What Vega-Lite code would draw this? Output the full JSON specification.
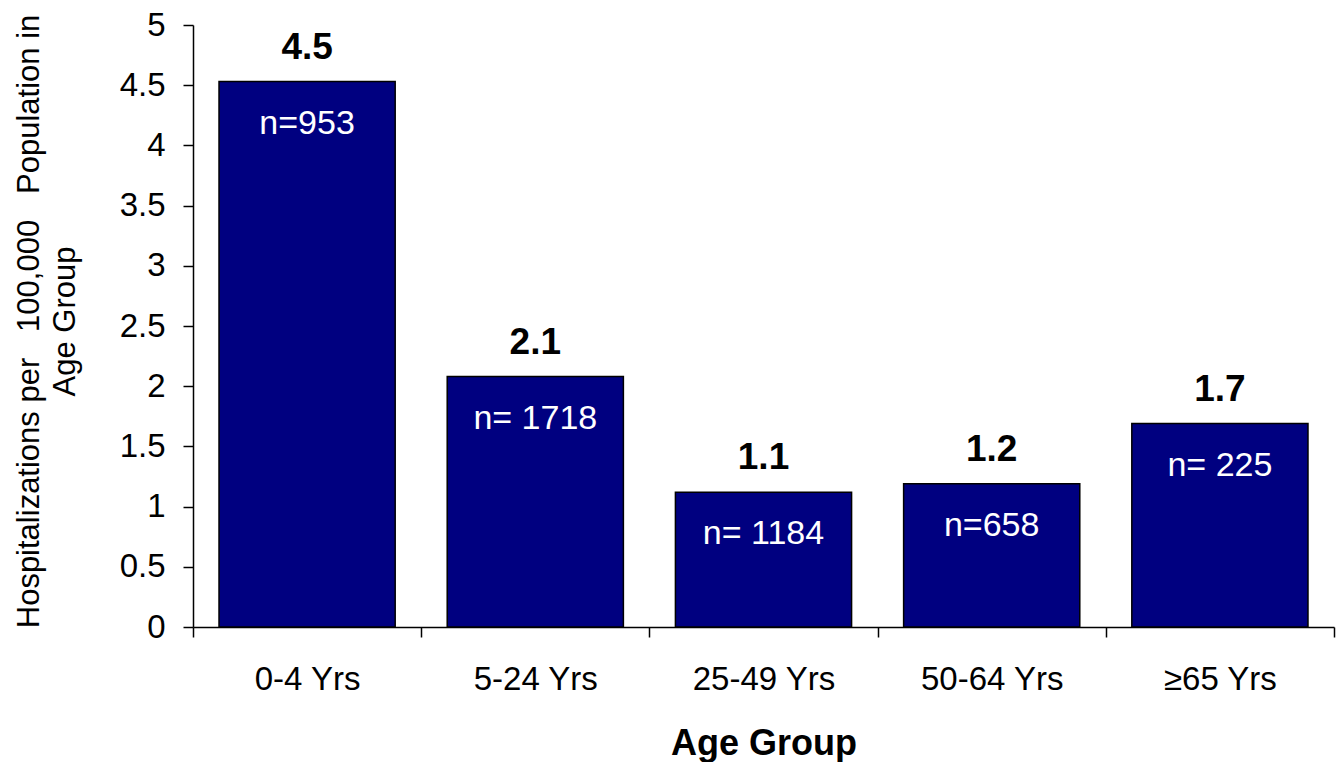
{
  "$schema": "https://vega.github.io/schema/vega-lite/v6.json",
  "width": 1141,
  "height": 602,
  "autosize": {"type": "none"},
  "padding": {"left": 193, "top": 25, "right": 3, "bottom": 135},
  "background": "white",
  "data": {
    "values": [
      {"age": "0-4 Yrs", "rate": 4.53, "label": "4.5", "n": "n=953"},
      {"age": "5-24 Yrs", "rate": 2.08, "label": "2.1", "n": "n= 1718"},
      {"age": "25-49 Yrs", "rate": 1.12, "label": "1.1", "n": "n= 1184"},
      {"age": "50-64 Yrs", "rate": 1.19, "label": "1.2", "n": "n=658"},
      {"age": "≥65 Yrs", "rate": 1.69, "label": "1.7", "n": "n= 225"}
    ]
  },
  "config": {
    "font": "Liberation Sans",
    "view": {"stroke": null},
    "axis": {
      "domainColor": "black",
      "tickColor": "black",
      "labelColor": "black",
      "titleColor": "black",
      "domainWidth": 1.5,
      "tickWidth": 1.5,
      "grid": false,
      "labelFont": "Liberation Sans",
      "titleFont": "Liberation Sans"
    }
  },
  "encoding": {
    "x": {
      "field": "age",
      "type": "nominal",
      "sort": null,
      "scale": {"paddingInner": 0, "paddingOuter": 0},
      "axis": {
        "title": "Age Group",
        "titleFontSize": 36,
        "titleFontWeight": "bold",
        "titleBaseline": "alphabetic",
        "titleY": 127,
        "labelAngle": 0,
        "labelFontSize": 33,
        "labelBaseline": "top",
        "labelPadding": 26,
        "tickSize": 10,
        "tickBand": "extent"
      }
    },
    "y": {
      "field": "rate",
      "type": "quantitative",
      "scale": {"domain": [0, 5], "nice": false},
      "axis": {
        "values": [0, 0.5, 1, 1.5, 2, 2.5, 3, 3.5, 4, 4.5, 5],
        "format": "~g",
        "labelFontSize": 33,
        "labelPadding": 18,
        "tickSize": 10,
        "title": ["Hospitalizations per\u00a0\u00a0 100,000 \u00a0\u00a0Population in", "Age Group"],
        "titleFontSize": 31,
        "titleFontWeight": "normal",
        "titleAngle": -90,
        "titleAlign": "center",
        "titleBaseline": "alphabetic",
        "titleLineHeight": 36,
        "titleX": -155,
        "titleY": 296
      }
    }
  },
  "layer": [
    {
      "mark": {"type": "bar", "width": {"band": 0.772}, "color": "#000080", "stroke": "black", "strokeWidth": 1.5}
    },
    {
      "mark": {"type": "text", "fontSize": 37, "fontWeight": "bold", "baseline": "alphabetic", "dy": -23, "color": "black"},
      "encoding": {"text": {"field": "label"}}
    },
    {
      "mark": {"type": "text", "fontSize": 34, "baseline": "alphabetic", "dy": 52, "color": "white"},
      "encoding": {"text": {"field": "n"}}
    }
  ]
}
